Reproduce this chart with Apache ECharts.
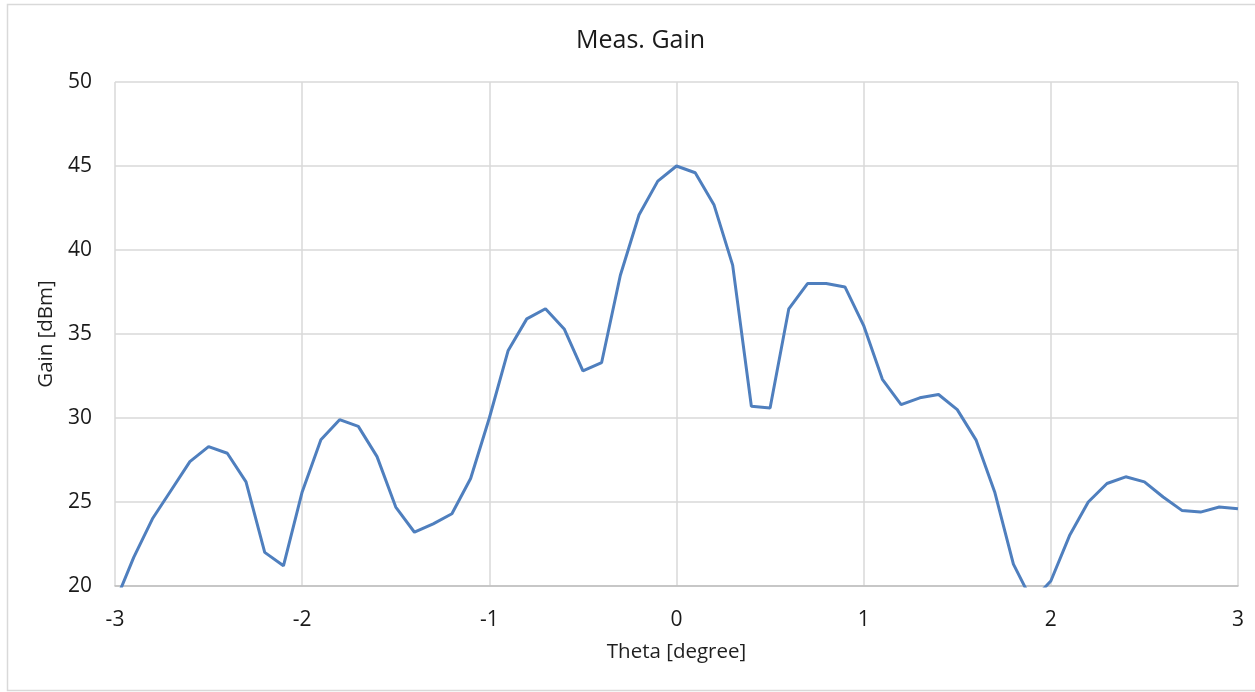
<!DOCTYPE html>
<html>
<head>
<meta charset="utf-8">
<script src="https://cdn.jsdelivr.net/npm/echarts@6/dist/echarts.min.js"></script>
<style>
html,body{margin:0;padding:0;background:#fff;}
#c{width:1255px;height:692px;}
</style>
</head>
<body>
<div id="c"></div>
<script>
const theta = [-3.0,-2.9,-2.8,-2.7,-2.6,-2.5,-2.4,-2.3,-2.2,-2.1,-2.0,-1.9,-1.8,-1.7,-1.6,-1.5,-1.4,-1.3,-1.2,-1.1,-1.0,-0.9,-0.8,-0.7,-0.6,-0.5,-0.4,-0.3,-0.2,-0.1,0.0,0.1,0.2,0.3,0.4,0.5,0.6,0.7,0.8,0.9,1.0,1.1,1.2,1.3,1.4,1.5,1.6,1.7,1.8,1.9,2.0,2.1,2.2,2.3,2.4,2.5,2.6,2.7,2.8,2.9,3.0];
const gain = [19.0,21.7,24.0,25.7,27.4,28.3,27.9,26.2,22.0,21.2,25.6,28.7,29.9,29.5,27.7,24.7,23.2,23.7,24.3,26.4,30.0,34.0,35.9,36.5,35.3,32.8,33.3,38.5,42.1,44.1,45.0,44.6,42.7,39.1,30.7,30.6,36.5,38.0,38.0,37.8,35.5,32.3,30.8,31.2,31.4,30.5,28.7,25.6,21.3,19.1,20.3,23.0,25.0,26.1,26.5,26.2,25.3,24.5,24.4,24.7,24.6];
const xTicks = [-3,-2,-1,0,1,2,3];
const yTicks = [20,25,30,35,40,45,50];

const chart = echarts.init(document.getElementById('c'));
const font = '"Open Sans", "Liberation Sans", sans-serif';
chart.setOption({
  backgroundColor: '#fff',
  animation: false,
  graphic: [{
    type: 'rect',
    shape: {x: 7.5, y: 4.5, width: 1260, height: 686},
    style: {fill: 'none', stroke: '#d9d9d9', lineWidth: 1.5},
    silent: true
  }],
  title: {
    text: 'Meas. Gain',
    left: 571,
    top: 23,
    textStyle: {fontFamily: font, fontSize: 25, fontWeight: 'normal', color: '#1a1a1a'}
  },
  grid: {left: 115, right: 17, top: 82, bottom: 106, containLabel: false},
  xAxis: {
    type: 'value',
    min: xTicks[0], max: xTicks[xTicks.length-1], interval: 1,
    name: 'Theta [degree]', nameLocation: 'middle', nameGap: 56,
    nameTextStyle: {fontFamily: font, fontSize: 20.5, color: '#1f1f1f'},
    axisLine: {show: true, onZero: false, lineStyle: {color: '#bfbfbf', width: 1.5}},
    axisTick: {show: false},
    axisLabel: {fontFamily: font, fontSize: 21, color: '#1a1a1a', margin: 24},
    splitLine: {show: true, lineStyle: {color: '#d9d9d9', width: 1.5}}
  },
  yAxis: {
    type: 'value',
    min: yTicks[0], max: yTicks[yTicks.length-1], interval: 5,
    name: 'Gain [dBm]', nameLocation: 'middle', nameGap: 54,
    nameTextStyle: {fontFamily: font, fontSize: 20.5, color: '#1f1f1f'},
    axisLine: {show: false},
    axisTick: {show: false},
    axisLabel: {fontFamily: font, fontSize: 21, color: '#1a1a1a', margin: 23},
    splitLine: {show: true, lineStyle: {color: '#d9d9d9', width: 1.5}}
  },
  series: [{
    type: 'line',
    data: theta.map((t, i) => [t, gain[i]]),
    showSymbol: false,
    clip: true,
    lineStyle: {color: '#4F7FBE', width: 3},
    itemStyle: {color: '#4F7FBE'}
  }]
});
</script>
</body>
</html>
